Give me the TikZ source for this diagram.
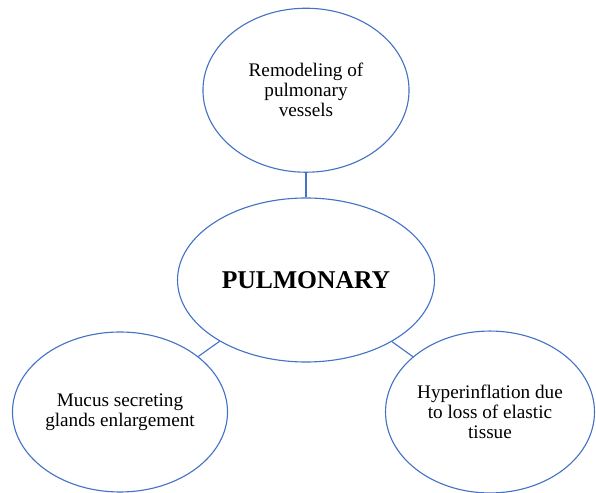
\documentclass[tikz,border=0pt]{standalone}
\usepackage{fontspec}
\setmainfont{Liberation Serif}
\usetikzlibrary{positioning,shapes.geometric}
\definecolor{lineblue}{RGB}{68,114,196}

\begin{document}
\begin{tikzpicture}[x=0.625pt, y=-0.625pt, every edge/.append style={lineblue, line width=0.7pt}, bubble/.style={ellipse, draw=lineblue, line width=0.7pt, inner sep=0pt, align=center, font=\fontsize{12}{12.5}\selectfont}]
\useasboundingbox (0,0) rectangle (596,493);

\node[bubble, minimum width=160.6pt, minimum height=102.5pt, font=\bfseries\fontsize{16}{18}\selectfont] (pulm) at (306,280) {PULMONARY};
\node[bubble, minimum width=128.8pt, minimum height=102.5pt] (vessels) [above=15.4pt of pulm] {Remodeling of\\pulmonary\\vessels};
\node[bubble, minimum width=134.4pt, minimum height=100pt] (mucus) at (120,412) {Mucus secreting\\glands enlargement};
\node[bubble, minimum width=130.6pt, minimum height=101.2pt] (hyper) at (490,412) {Hyperinflation due\\to loss of elastic\\tissue};

\path
    (pulm) edge (vessels)
    (pulm) edge (mucus)
    (pulm) edge (hyper);
\end{tikzpicture}
\end{document}
